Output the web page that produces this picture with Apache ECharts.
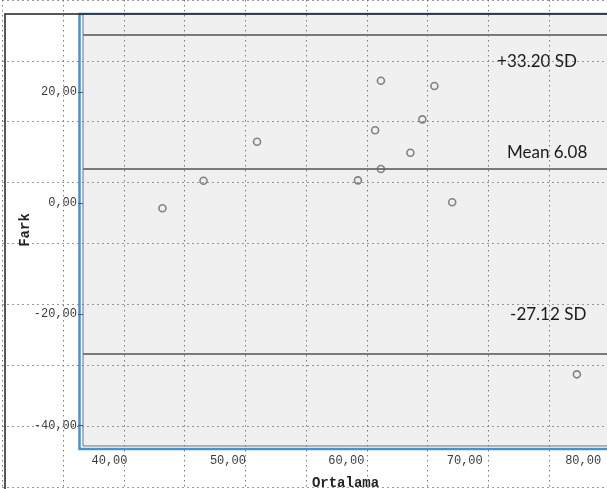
<!DOCTYPE html>
<html>
<head>
<meta charset="utf-8">
<script src="https://cdn.jsdelivr.net/npm/echarts@6/dist/echarts.min.js"></script>
<style>html,body{margin:0;padding:0;background:#fff;}#c{width:607px;height:489px;}</style>
</head>
<body>
<div id="c"></div>
<script>
// Data
var ortalama = [44.47, 47.94, 52.46, 60.98, 62.43, 62.92, 62.92, 65.41, 66.42, 67.44, 68.94, 79.47];
var fark     = [-0.95, 4.01, 11.03, 4.08, 13.08, 22.0, 6.12, 9.05, 15.05, 21.04, 0.13, -30.81];
var refLines = [30.2, 6.08, -27.12];
var refLabels = ['+33.20 SD', 'Mean 6.08', '-27.12 SD'];
var refLabelPos = [[76.1, 25.4], [76.96, 9.0], [77.05, -20.1]];
var xTicks = [40, 50, 60, 70, 80];
var yTicks = [-40, -20, 0, 20];

var points = ortalama.map(function (x, i) { return [x, fark[i]]; });
var fmt = function (v) { return v.toFixed(2).replace('.', ','); };
var mono = 'Liberation Mono';
var dotted = { width: 1, color: '#7a7a7a', type: [1.5, 3.5] };

var chart = echarts.init(document.getElementById('c'), null, { renderer: 'canvas' });
chart.setOption({
  animation: false,
  grid: [
    { left: 83, top: 14, right: -1, bottom: 43, show: true, backgroundColor: '#f0f0f0', borderColor: '#6e6e6e', borderWidth: 1, z: 1, outerBoundsMode: 'none', containLabel: false },
    { left: 2.25, right: 0, top: 0, bottom: 0, show: false, outerBoundsMode: 'none', containLabel: false },
    { left: 79.5, top: 14, right: -10, bottom: 40, show: true, backgroundColor: 'transparent', borderColor: '#4a90d9', borderWidth: 2.5, z: 0, outerBoundsMode: 'none', containLabel: false },
    { left: 5, top: 14, right: -10, bottom: -10, show: true, backgroundColor: 'transparent', borderColor: '#222', borderWidth: 1.5, z: 2, outerBoundsMode: 'none', containLabel: false }
  ],
  xAxis: [
    {
      gridIndex: 0, type: 'value', min: 37.76, max: 82.1,
      name: 'Ortalama', nameLocation: 'middle', nameGap: 30, nameMoveOverlap: false,
      nameTextStyle: { fontFamily: mono, fontWeight: 'bold', fontSize: 14, color: '#222' },
      axisLine: { show: false },
      axisTick: { show: true, length: 5, customValues: xTicks, lineStyle: { color: '#555' } },
      axisLabel: { customValues: xTicks, formatter: fmt, fontFamily: mono, fontSize: 12, color: '#3a3a3a', margin: 9 },
      splitLine: { show: false }
    },
    {
      gridIndex: 1, type: 'value', min: 0, max: 604.75, interval: 60.75, z: 20,
      axisLine: { show: false }, axisTick: { show: false }, axisLabel: { show: false },
      splitLine: { show: true, lineStyle: dotted }
    },
    { gridIndex: 2, type: 'value', show: false },
    { gridIndex: 3, type: 'value', show: false }
  ],
  yAxis: [
    {
      gridIndex: 0, type: 'value', min: -43.7, max: 34.0,
      name: 'Fark', nameLocation: 'middle', nameGap: 51, nameMoveOverlap: false,
      nameTextStyle: { fontFamily: mono, fontWeight: 'bold', fontSize: 14, color: '#222' },
      axisLine: { show: false },
      axisTick: { show: true, length: 5, customValues: yTicks, lineStyle: { color: '#555' } },
      axisLabel: { customValues: yTicks, formatter: fmt, fontFamily: mono, fontSize: 12, color: '#3a3a3a', margin: 6 },
      splitLine: { show: false }
    },
    {
      gridIndex: 1, type: 'value', inverse: true, min: 0, max: 489, interval: 60.86, z: 20,
      axisLine: { show: false }, axisTick: { show: false }, axisLabel: { show: false },
      splitLine: { show: true, lineStyle: dotted }
    },
    { gridIndex: 2, type: 'value', show: false },
    { gridIndex: 3, type: 'value', show: false }
  ],
  series: [
    {
      type: 'scatter', xAxisIndex: 0, yAxisIndex: 0, data: points,
      symbol: 'circle', symbolSize: 7, z: 5,
      itemStyle: { color: 'rgba(0,0,0,0)', borderColor: '#666', borderWidth: 1.6 },
      markLine: {
        silent: true, symbol: ['none', 'none'],
        label: { show: false },
        lineStyle: { color: '#7a7a7a', width: 2, type: 'solid' },
        data: refLines.map(function (v) { return { yAxis: v }; })
      },
      markPoint: {
        silent: true, symbol: 'circle', symbolSize: 1,
        itemStyle: { color: 'rgba(0,0,0,0)' },
        label: { show: true, position: 'inside', fontFamily: 'Lato', fontSize: 17, color: '#1a1a1a' },
        data: refLabels.map(function (t, i) { return { coord: refLabelPos[i], value: t, label: { formatter: t } }; })
      }
    }
  ]
});
</script>
</body>
</html>
